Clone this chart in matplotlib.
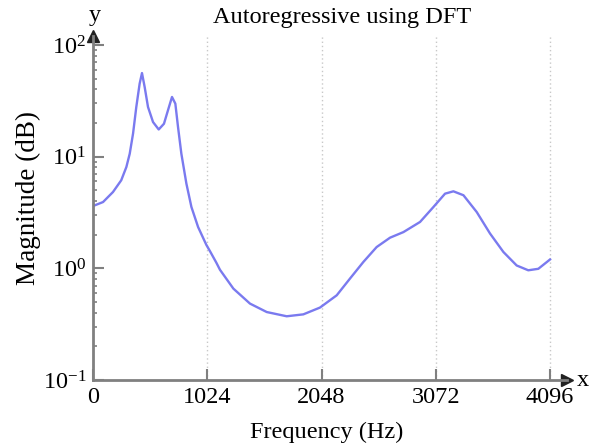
import matplotlib.pyplot as plt
from matplotlib.ticker import LogLocator, FixedLocator

# frequency (Hz) and magnitude
freq = [0, 90, 179, 253, 299, 329, 359, 388, 418, 439, 463, 493, 538, 589,
        636, 672, 708, 738, 762, 792, 837, 882, 942, 1016, 1049, 1106, 1138,
        1258, 1407, 1557, 1736, 1885, 2034, 2184, 2303, 2423, 2542, 2662,
        2782, 2931, 3051, 3155, 3230, 3320, 3439, 3558, 3678, 3797, 3901,
        3991, 4096]
mag = [3.61, 3.92, 4.82, 6.14, 8.07, 10.6, 16.1, 27.8, 45, 56, 42, 27.8,
       20.4, 17.5, 19.7, 26, 34.2, 29.8, 18.4, 10.6, 5.73, 3.54, 2.34, 1.62,
       1.42, 1.12, 0.97, 0.658, 0.483, 0.406, 0.372, 0.387, 0.445, 0.573,
       0.809, 1.14, 1.55, 1.88, 2.11, 2.60, 3.54, 4.66, 4.89, 4.51, 3.19,
       2.05, 1.40, 1.06, 0.96, 0.99, 1.20]
xticks = [0, 1024, 2048, 3072, 4096]

plt.rcParams['font.family'] = ['Liberation Serif', 'DejaVu Serif']
plt.rcParams['mathtext.fontset'] = 'custom'
plt.rcParams['mathtext.rm'] = 'Liberation Serif'

spine_col = '#808080'
fig = plt.figure(figsize=(6.01, 4.47), dpi=100)
ax = fig.add_axes([93 / 601, 1 - 380 / 447, (567 - 93) / 601, (380 - 36) / 447])

ax.plot(freq, mag, color='#7a7aef', lw=1.7, solid_joinstyle='round')
ax.set_yscale('log')
ax.set_xlim(0, 4248)
ax.set_ylim(0.1, 10 ** 2.08)

for xv in xticks[1:]:
    ax.axvline(xv, color='#c8c8c8', lw=1.0, ls=(0, (1, 2)), zorder=0)

ax.xaxis.set_major_locator(FixedLocator(xticks))
ax.yaxis.set_major_locator(LogLocator(base=10, numticks=10))
ax.yaxis.set_minor_locator(LogLocator(base=10, subs=range(2, 10), numticks=20))
ax.tick_params(axis='both', which='major', direction='in', length=8, width=1.5,
               color=spine_col, labelsize=17.5, pad=5)
ax.tick_params(axis='y', which='minor', direction='in', length=3, width=1.2,
               color=spine_col)
ax.tick_params(axis='x', which='minor', length=0)

for side in ['top', 'right']:
    ax.spines[side].set_visible(False)
for side in ['left', 'bottom']:
    ax.spines[side].set_color(spine_col)
    ax.spines[side].set_linewidth(2)

# axis arrows
ax.plot([1], [0], marker='>', ms=9, color='#222222', transform=ax.transAxes,
        clip_on=False)
ax.plot([0], [1], marker='^', ms=9, color='#222222', transform=ax.transAxes,
        clip_on=False)
fig.text(583 / 601, 1 - 380 / 447, 'x', fontsize=17.5, ha='center', va='center')
fig.text(95 / 601, 1 - 15 / 447, 'y', fontsize=17.5, ha='center', va='center')

fig.text(342 / 601, 1 - 18 / 447, 'Autoregressive using DFT', fontsize=17.5,
         ha='center', va='center')
fig.text(327 / 601, 1 - 432 / 447, 'Frequency (Hz)', fontsize=17.5,
         ha='center', va='center')
fig.text(28 / 601, 1 - 198 / 447, 'Magnitude (dB)', fontsize=19.5,
         ha='center', va='center', rotation=90)

fig.savefig('out.png', dpi=100)
